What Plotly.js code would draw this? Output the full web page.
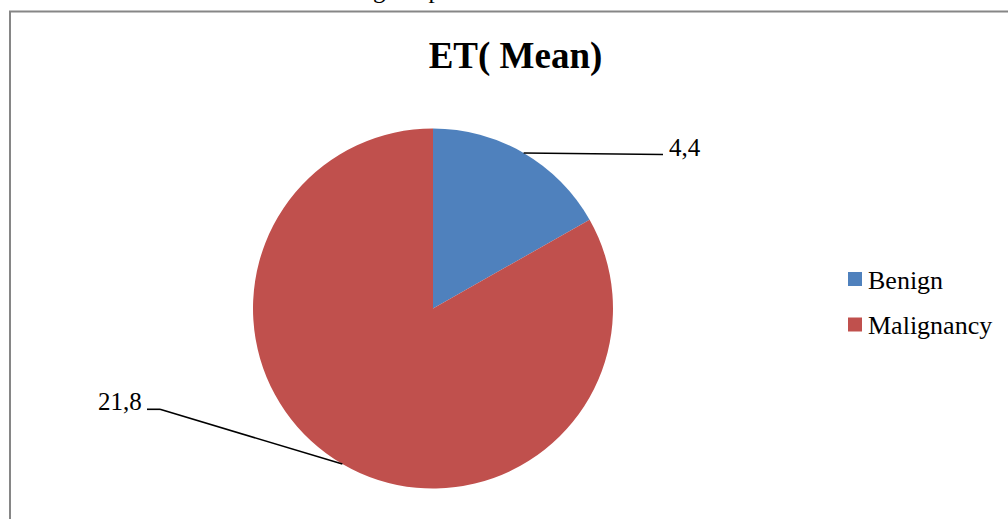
<!DOCTYPE html>
<html>
<head>
<meta charset="utf-8">
<script src="https://cdn.plot.ly/plotly-3.0.1.min.js"></script>
<style>html,body{margin:0;padding:0;background:#fff;}#chart{width:1008px;height:519px;}</style>
</head>
<body>
<div id="chart"></div>
<script>
// ---- data ----
const labels = ['Benign', 'Malignancy'];
const values = [4.4, 21.8];
const colors = ['#4F81BD', '#C0504D'];
const chartTitle = 'ET( Mean)';

// ---- layout constants (pixels) ----
const W = 1008, H = 519;
const CX = 433, CY = 308.5, R = 180;
const FONT = 'Liberation Serif, Times New Roman, serif';

const px = x => x / W;
const py = y => 1 - y / H;
const fmt = v => String(v).replace('.', ',');

// slice mid-angles (clockwise from 12 o'clock), from the data
const total = values.reduce((a, b) => a + b, 0);
let acc = 0;
const mids = values.map(v => { const m = (acc + v / 2) / total * 2 * Math.PI; acc += v; return m; });
const edge = mids.map(a => [CX + R * Math.sin(a), CY - R * Math.cos(a)]);

const trace = {
  type: 'pie',
  labels: labels,
  values: values,
  sort: false,
  direction: 'clockwise',
  rotation: 0,
  textinfo: 'none',
  hoverinfo: 'label+value',
  marker: {colors: colors, line: {width: 0}},
  domain: {x: [px(CX - R), px(CX + R)], y: [py(CY + R), py(CY - R)]},
  showlegend: false
};

const lineStyle = {color: '#000', width: 1.6};
const shapes = [
  // outer chart border (extends past the visible window)
  {type: 'rect', xref: 'paper', yref: 'paper', x0: px(10), y0: -0.05, x1: 1.05, y1: py(11.5),
   line: {color: '#868686', width: 2}, fillcolor: 'rgba(0,0,0,0)'},
  // leader line Benign
  {type: 'line', xref: 'paper', yref: 'paper', x0: px(edge[0][0]), y0: py(edge[0][1]), x1: px(663), y1: py(154.5), line: lineStyle},
  // leader line Malignancy
  {type: 'line', xref: 'paper', yref: 'paper', x0: px(edge[1][0]), y0: py(edge[1][1]), x1: px(160), y1: py(409.3), line: lineStyle},
  {type: 'line', xref: 'paper', yref: 'paper', x0: px(160), y0: py(409.3), x1: px(147), y1: py(409.3), line: lineStyle},
  // legend swatches
  {type: 'rect', xref: 'paper', yref: 'paper', x0: px(848), x1: px(862), y0: py(286), y1: py(272), line: {width: 0}, fillcolor: colors[0]},
  {type: 'rect', xref: 'paper', yref: 'paper', x0: px(848), x1: px(862), y0: py(331.5), y1: py(317.5), line: {width: 0}, fillcolor: colors[1]}
];

const tfont = {family: FONT, size: 25, color: '#000'};
const lfont = {family: FONT, size: 26, color: '#000'};
const annotations = [
  {xref: 'paper', yref: 'paper', x: px(667), y: py(147.5), xanchor: 'left', yanchor: 'middle', text: fmt(values[0]), showarrow: false, font: tfont},
  {xref: 'paper', yref: 'paper', x: px(144), y: py(401.5), xanchor: 'right', yanchor: 'middle', text: fmt(values[1]), showarrow: false, font: tfont},
  {xref: 'paper', yref: 'paper', x: px(866), y: py(280), xanchor: 'left', yanchor: 'middle', text: labels[0], showarrow: false, font: lfont},
  {xref: 'paper', yref: 'paper', x: px(866), y: py(325.5), xanchor: 'left', yanchor: 'middle', text: labels[1], showarrow: false, font: lfont},
  // fragment of surrounding document text, cut off at the top edge
  {xref: 'paper', yref: 'paper', x: px(371), y: 1, xanchor: 'left', yanchor: 'bottom', yshift: -5, text: 'g the p', showarrow: false, font: tfont}
];

const layout = {
  width: W, height: H,
  margin: {l: 0, r: 0, t: 0, b: 0},
  paper_bgcolor: '#fff',
  plot_bgcolor: '#fff',
  showlegend: false,
  title: {text: '<b>' + chartTitle + '</b>', font: {family: FONT, size: 37, color: '#000'},
          x: px(515.5), xanchor: 'center', xref: 'container', y: py(55), yanchor: 'middle', yref: 'container'},
  shapes: shapes,
  annotations: annotations
};

Plotly.newPlot('chart', [trace], layout, {displayModeBar: false, staticPlot: true});
</script>
</body>
</html>
